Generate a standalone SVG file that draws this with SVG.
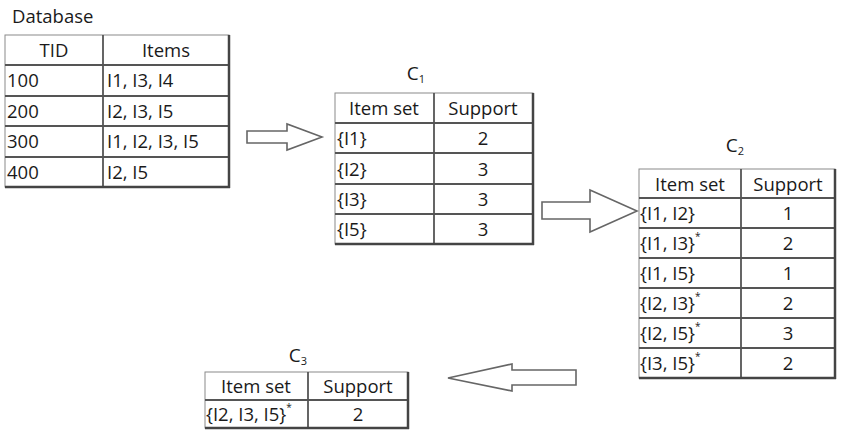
<svg xmlns="http://www.w3.org/2000/svg" width="841" height="436" viewBox="0 0 841 436">
<style>
text{font-family:"Open Sans","Liberation Sans",sans-serif;font-size:18.5px;fill:#1a1a1a}
.c{text-anchor:middle}
.lbl{font-size:19px}
.sub{font-size:11px}
.sup{font-size:10px}
.cell{fill:#fff;stroke:#8a8a8a;stroke-width:1}
.ln{stroke:#555;stroke-width:1.8}
.edge{stroke:#444;stroke-width:2.5}
.arrow{fill:#fff;stroke:#666;stroke-width:1.6;stroke-linejoin:miter}
</style>
<rect width="841" height="436" fill="#fff"/>

<g id="database">
  <text x="12" y="23">Database</text>
  <rect class="cell" x="5" y="35" width="224" height="152"/>
  <line class="ln" x1="5" y1="65" x2="229" y2="65"/>
  <line class="ln" x1="5" y1="96" x2="229" y2="96"/>
  <line class="ln" x1="5" y1="126" x2="229" y2="126"/>
  <line class="ln" x1="5" y1="157" x2="229" y2="157"/>
  <line class="ln" x1="103" y1="35" x2="103" y2="187"/>
  <line class="edge" x1="229" y1="35" x2="229" y2="188"/>
  <line class="edge" x1="5" y1="187" x2="230" y2="187"/>
  <text class="c" x="54" y="57">TID</text>
  <text class="c" x="166" y="57">Items</text>
  <text x="7" y="87">100</text><text x="107" y="87">I1, I3, I4</text>
  <text x="7" y="118">200</text><text x="107" y="118">I2, I3, I5</text>
  <text x="7" y="148">300</text><text x="107" y="148">I1, I2, I3, I5</text>
  <text x="7" y="179">400</text><text x="107" y="179">I2, I5</text>
</g>

<g id="c1">
  <text class="c lbl" x="416" y="80">C<tspan class="sub" dy="3">1</tspan></text>
  <rect class="cell" x="335" y="93" width="198" height="151"/>
  <line class="ln" x1="335" y1="123" x2="533" y2="123"/>
  <line class="ln" x1="335" y1="153" x2="533" y2="153"/>
  <line class="ln" x1="335" y1="184" x2="533" y2="184"/>
  <line class="ln" x1="335" y1="214" x2="533" y2="214"/>
  <line class="ln" x1="434" y1="93" x2="434" y2="244"/>
  <line class="edge" x1="533" y1="93" x2="533" y2="245"/>
  <line class="edge" x1="335" y1="244" x2="534" y2="244"/>
  <text class="c" x="384" y="115">Item set</text>
  <text class="c" x="483" y="115">Support</text>
  <text x="337" y="145">{I1}</text><text class="c" x="483" y="145">2</text>
  <text x="337" y="176">{I2}</text><text class="c" x="483" y="176">3</text>
  <text x="337" y="206">{I3}</text><text class="c" x="483" y="206">3</text>
  <text x="337" y="236">{I5}</text><text class="c" x="483" y="236">3</text>
</g>

<g id="c2">
  <text class="c lbl" x="735" y="152">C<tspan class="sub" dy="3">2</tspan></text>
  <rect class="cell" x="639" y="169" width="196" height="209"/>
  <line class="ln" x1="639" y1="198" x2="835" y2="198"/>
  <line class="ln" x1="639" y1="228" x2="835" y2="228"/>
  <line class="ln" x1="639" y1="258" x2="835" y2="258"/>
  <line class="ln" x1="639" y1="288" x2="835" y2="288"/>
  <line class="ln" x1="639" y1="318" x2="835" y2="318"/>
  <line class="ln" x1="639" y1="348" x2="835" y2="348"/>
  <line class="ln" x1="741" y1="169" x2="741" y2="378"/>
  <line class="edge" x1="835" y1="169" x2="835" y2="379"/>
  <line class="edge" x1="639" y1="378" x2="836" y2="378"/>
  <text class="c" x="690" y="191">Item set</text>
  <text class="c" x="788" y="191">Support</text>
  <text x="640" y="220">{I1, I2}</text><text class="c" x="788" y="220">1</text>
  <text x="640" y="250">{I1, I3}<tspan class="sup" dy="-10">*</tspan></text><text class="c" x="788" y="250">2</text>
  <text x="640" y="280">{I1, I5}</text><text class="c" x="788" y="280">1</text>
  <text x="640" y="310">{I2, I3}<tspan class="sup" dy="-10">*</tspan></text><text class="c" x="788" y="310">2</text>
  <text x="640" y="340">{I2, I5}<tspan class="sup" dy="-10">*</tspan></text><text class="c" x="788" y="340">3</text>
  <text x="640" y="370">{I3, I5}<tspan class="sup" dy="-10">*</tspan></text><text class="c" x="788" y="370">2</text>
</g>

<g id="c3">
  <text class="c lbl" x="298" y="362">C<tspan class="sub" dy="3">3</tspan></text>
  <rect class="cell" x="205" y="372" width="203" height="56"/>
  <line class="ln" x1="205" y1="400" x2="408" y2="400"/>
  <line class="ln" x1="308" y1="372" x2="308" y2="428"/>
  <line class="edge" x1="408" y1="372" x2="408" y2="429"/>
  <line class="edge" x1="205" y1="428" x2="409" y2="428"/>
  <text class="c" x="256" y="393">Item set</text>
  <text class="c" x="358" y="393">Support</text>
  <text x="206" y="421">{I2, I3, I5}<tspan class="sup" dy="-10">*</tspan></text><text class="c" x="358" y="421">2</text>
</g>

<g id="connectors">
  <polygon class="arrow" points="247,131 287,131 287,124 322,137 287,150 287,143 247,143"/>
  <polygon class="arrow" points="542,202 590,202 590,190 637,211 590,232 590,219 542,219"/>
  <polygon class="arrow" points="576,370 512,370 512,364 448,378 512,391 512,385 576,385"/>
</g>
</svg>
